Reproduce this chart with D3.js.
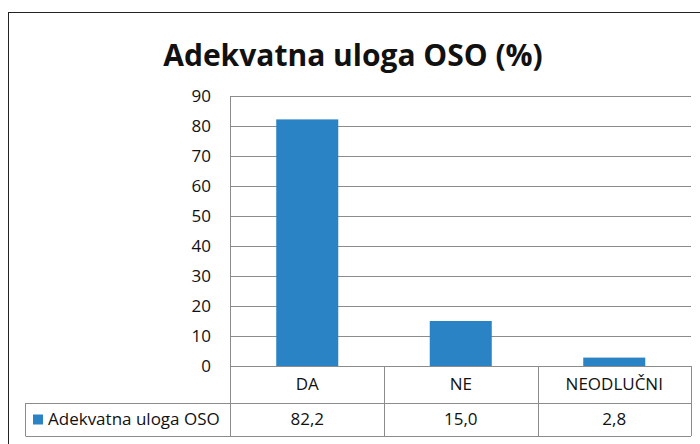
<!DOCTYPE html>
<html>
<head>
<meta charset="utf-8">
<script src="https://cdn.jsdelivr.net/npm/d3@7"></script>
<style>
  body { margin: 0; background: #fff; }
  text { font-family: "Open Sans", "Noto Sans", sans-serif; fill: #111; }
</style>
</head>
<body>
<div id="chart"></div>
<script>
// chart data
var title = 'Adekvatna uloga OSO (%)';
var seriesName = 'Adekvatna uloga OSO';
var categories = ['DA', 'NE', 'NEODLUČNI'];
var values = [82.2, 15.0, 2.8];
var yTicks = [0, 10, 20, 30, 40, 50, 60, 70, 80, 90];

var width = 700, height = 444;
var margin = {top: 96, left: 230.5, right: 9},
    plotBottom = 366,
    rowH1 = 37, rowH2 = 33,
    legendLeft = 25.5;

var barColor = '#2a83c4',
    gridColor = '#8c8c8c';

var svg = d3.select('#chart').append('svg')
    .attr('width', width)
    .attr('height', height);

// outer chart border
svg.append('rect')
    .attr('x', 8.5).attr('y', 12.5)
    .attr('width', width + 20).attr('height', height + 20)
    .attr('fill', 'none')
    .attr('stroke', '#222')
    .attr('stroke-width', 1);

// title
svg.append('text')
    .attr('x', 353)
    .attr('y', 66)
    .attr('text-anchor', 'middle')
    .style('font-size', '30px')
    .style('font-weight', 'bold')
    .text(title);

// scales
var xScale = d3.scaleBand()
    .domain(categories)
    .range([margin.left, width - margin.right])
    .padding(0);

var yScale = d3.scaleLinear()
    .domain([0, 90])
    .range([plotBottom, margin.top]);

// gridlines
svg.append('g').selectAll('line')
    .data(yTicks)
    .enter().append('line')
    .attr('x1', margin.left)
    .attr('x2', width - margin.right)
    .attr('y1', function(d) { return Math.round(yScale(d)) + 0.5; })
    .attr('y2', function(d) { return Math.round(yScale(d)) + 0.5; })
    .attr('stroke', gridColor)
    .attr('stroke-width', 1);

// y tick labels
svg.append('g').selectAll('text')
    .data(yTicks)
    .enter().append('text')
    .attr('x', 211)
    .attr('y', function(d) { return yScale(d); })
    .attr('dy', '0.35em')
    .attr('text-anchor', 'end')
    .style('font-size', '17px')
    .text(function(d) { return d; });

// bars
var barW = xScale.bandwidth() * 0.404;
svg.append('g').selectAll('rect')
    .data(values)
    .enter().append('rect')
    .attr('x', function(d, i) { return xScale(categories[i]) + (xScale.bandwidth() - barW) / 2; })
    .attr('y', function(d) { return yScale(d); })
    .attr('width', barW)
    .attr('height', function(d) { return plotBottom - yScale(d); })
    .attr('fill', barColor);

// data table
var t = svg.append('g').attr('stroke', gridColor).attr('stroke-width', 1);
var row1 = plotBottom + rowH1, row2 = row1 + rowH2;
var xr = width - margin.right;

// left axis line down through table
t.append('line').attr('x1', margin.left).attr('x2', margin.left)
    .attr('y1', margin.top).attr('y2', row2);
// category dividers + right edge
t.selectAll('.div')
    .data(categories.slice(1).map(function(c) { return xScale(c); }).concat([xr]))
    .enter().append('line')
    .attr('x1', function(d) { return Math.round(d) + 0.5; })
    .attr('x2', function(d) { return Math.round(d) + 0.5; })
    .attr('y1', plotBottom).attr('y2', row2);
t.append('line').attr('x1', legendLeft).attr('x2', xr).attr('y1', row1 + 0.5).attr('y2', row1 + 0.5);
t.append('line').attr('x1', legendLeft).attr('x2', xr).attr('y1', row2 + 0.5).attr('y2', row2 + 0.5);
t.append('line').attr('x1', legendLeft).attr('x2', legendLeft).attr('y1', row1).attr('y2', row2);

// category labels
svg.append('g').selectAll('text')
    .data(categories)
    .enter().append('text')
    .attr('x', function(d) { return xScale(d) + xScale.bandwidth() / 2; })
    .attr('y', plotBottom + rowH1 / 2)
    .attr('dy', '0.35em')
    .attr('text-anchor', 'middle')
    .style('font-size', '17px')
    .text(function(d) { return d; });

// value labels
svg.append('g').selectAll('text')
    .data(values)
    .enter().append('text')
    .attr('x', function(d, i) { return xScale(categories[i]) + xScale.bandwidth() / 2; })
    .attr('y', row1 + rowH2 / 2)
    .attr('dy', '0.35em')
    .attr('text-anchor', 'middle')
    .style('font-size', '17px')
    .text(function(d) { return d3.format('.1f')(d).replace('.', ','); });

// legend key
svg.append('rect')
    .attr('x', 33).attr('y', row1 + rowH2 / 2 - 5)
    .attr('width', 10).attr('height', 10)
    .attr('fill', barColor);
svg.append('text')
    .attr('x', 48)
    .attr('y', row1 + rowH2 / 2)
    .attr('dy', '0.35em')
    .style('font-size', '17px')
    .text(seriesName);
</script>
</body>
</html>
